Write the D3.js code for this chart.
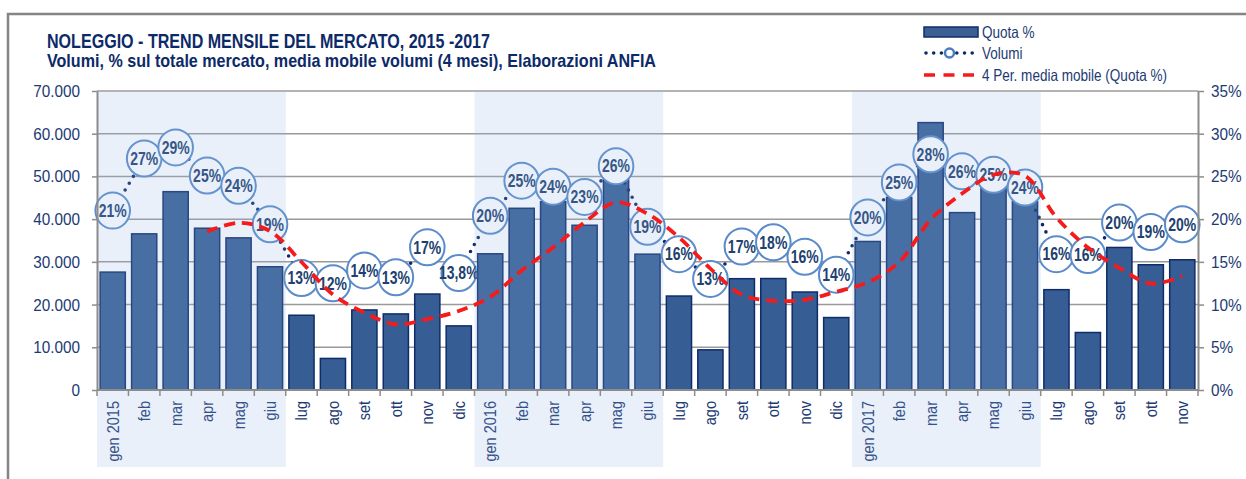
<!DOCTYPE html>
<html>
<head>
<meta charset="utf-8">
<script src="https://cdn.jsdelivr.net/npm/d3@7"></script>
<style>
  body { margin: 0; background: #fff; }
  svg { display: block; font-family: "Liberation Sans Narrow", "Arial Narrow", "Liberation Sans", Arial, sans-serif; }
</style>
</head>
<body>
<div id="wrapper"></div>
<script>
const categories = [
  'gen 2015', 'feb', 'mar', 'apr', 'mag', 'giu', 'lug', 'ago', 'set', 'ott', 'nov', 'dic',
  'gen 2016', 'feb', 'mar', 'apr', 'mag', 'giu', 'lug', 'ago', 'set', 'ott', 'nov', 'dic',
  'gen 2017', 'feb', 'mar', 'apr', 'mag', 'giu', 'lug', 'ago', 'set', 'ott', 'nov'
];

// bars (left axis, volumes)
const volumes = [
  27600, 36560, 46430, 37870, 35620, 28860, 17500, 7390, 18740, 17810, 22470, 15010,
  31890, 42540, 44080, 38570, 50530, 31800, 22000, 9400, 26060, 26100, 22940, 16960,
  34770, 45100, 62600, 41530, 52370, 44140, 23490, 13460, 33370, 29320, 30490
];

// share of total market (right axis), as placed in the picture
const quota = [
  21.0, 27.1, 28.4, 25.1, 23.9, 19.4, 13.1, 12.5, 14.0, 13.2, 16.7, 13.7,
  20.4, 24.5, 23.8, 22.6, 26.2, 19.1, 15.9, 13.0, 16.8, 17.3, 15.6, 13.5,
  20.2, 24.3, 27.6, 25.6, 25.2, 23.7, 15.9, 15.8, 19.6, 18.5, 19.4
];

const quotaLabels = [
  '21%', '27%', '29%', '25%', '24%', '19%', '13%', '12%', '14%', '13%', '17%', '13,8%',
  '20%', '25%', '24%', '23%', '26%', '19%', '16%', '13%', '17%', '18%', '16%', '14%',
  '20%', '25%', '28%', '26%', '25%', '24%', '16%', '16%', '20%', '19%', '20%'
];

const volumeTicks = [0, 10000, 20000, 30000, 40000, 50000, 60000, 70000];
const quotaTicks = [0, 5, 10, 15, 20, 25, 30, 35];
// first half of each year is shaded
const shadedSpans = [[0, 5], [12, 17], [24, 29]];

const itLocale = d3.formatLocale({ decimal: ',', thousands: '.', grouping: [3], currency: ['€', ''] });
const fmtVol = itLocale.format(',');

const width = 1246, height = 479;
const plot = { left: 97, right: 1198, top: 91, bottom: 390 };
const navy = '#1c3a73';

// squeeze text horizontally, the original uses a narrow face
const condense = (sel, k) => sel.each(function() {
  const w = this.getComputedTextLength();
  this.setAttribute('textLength', w * k);
  this.setAttribute('lengthAdjust', 'spacingAndGlyphs');
});

const svg = d3.select('#wrapper').append('svg')
    .attr('width', width)
    .attr('height', height);

// outer frame (top and left edges visible)
svg.append('path')
    .attr('d', `M8,${height} V14 H${width}`)
    .attr('fill', 'none')
    .attr('stroke', '#858585')
    .attr('stroke-width', 2.5);

const idx = categories.map((d, i) => i);

const xScale = d3.scaleBand()
    .domain(idx)
    .range([plot.left, plot.right])
    .paddingInner(0.2)
    .paddingOuter(0.1);

const yVol = d3.scaleLinear()
    .domain([0, 70000])
    .range([plot.bottom, plot.top]);

const yPct = d3.scaleLinear()
    .domain([0, 35])
    .range([plot.bottom, plot.top]);

const cx = i => xScale(i) + xScale.bandwidth() / 2;
const edge = i => xScale(i) - xScale.step() * xScale.paddingInner() / 2;

// gridlines
svg.append('g')
  .selectAll('line')
  .data(quotaTicks.slice(1))
  .join('line')
    .attr('x1', plot.left)
    .attr('x2', plot.right)
    .attr('y1', d => yPct(d))
    .attr('y2', d => yPct(d))
    .attr('stroke', '#9a9a9a')
    .attr('stroke-width', 1.5);

// bars
svg.append('g')
  .selectAll('rect')
  .data(volumes)
  .join('rect')
    .attr('x', (d, i) => xScale(i))
    .attr('width', xScale.bandwidth())
    .attr('y', d => yVol(d))
    .attr('height', d => yVol(0) - yVol(d))
    .attr('fill', '#365e94')
    .attr('stroke', '#0f2c68')
    .attr('stroke-width', 1.5);

// dotted line through share points
const shareLine = d3.line()
    .x((d, i) => cx(i))
    .y(d => yPct(d));

svg.append('path')
    .attr('d', shareLine(quota))
    .attr('fill', 'none')
    .attr('stroke', '#0f2a66')
    .attr('stroke-width', 3.6)
    .attr('stroke-linecap', 'round')
    .attr('stroke-dasharray', '0 8');

// label bubbles
const bubbles = svg.append('g')
  .selectAll('g')
  .data(quota)
  .join('g')
    .attr('transform', (d, i) => `translate(${cx(i)},${yPct(d)})`);

bubbles.append('ellipse')
    .attr('rx', 17.3)
    .attr('ry', 18)
    .attr('fill', '#fff')
    .attr('stroke', '#5b8bc9')
    .attr('stroke-width', 2);

bubbles.append('text')
    .attr('text-anchor', 'middle')
    .attr('dy', '0.36em')
    .attr('font-size', 17.5)
    .attr('font-weight', 'bold')
    .attr('fill', '#213f70')
    .text((d, i) => quotaLabels[i])
    .call(condense, 0.8);

// x axis labels
svg.append('g')
  .selectAll('text')
  .data(categories)
  .join('text')
    .attr('transform', (d, i) => `translate(${cx(i)},401) rotate(-90)`)
    .attr('text-anchor', 'end')
    .attr('dy', '0.36em')
    .attr('font-size', 16.5)
    .attr('fill', navy)
    .text(d => d)
    .call(condense, 0.88);

// shading for January-June, laid over the plot
svg.append('g')
  .selectAll('rect')
  .data(shadedSpans)
  .join('rect')
    .attr('x', d => edge(d[0]))
    .attr('width', d => edge(d[1]) + xScale.step() - edge(d[0]))
    .attr('y', plot.top + 1)
    .attr('height', 467 - plot.top - 1)
    .attr('fill', 'rgb(145,180,230)')
    .attr('fill-opacity', 0.2);

// 4-period moving average of the bar series
const movingAvg = volumes.map((d, i) => i < 3 ? null : d3.mean(volumes.slice(i - 3, i + 1)));

const avgLine = d3.line()
    .defined(d => d !== null)
    .x((d, i) => cx(i))
    .y(d => yVol(d))
    .curve(d3.curveCatmullRom.alpha(0.5));

svg.append('path')
    .attr('d', avgLine(movingAvg))
    .attr('fill', 'none')
    .attr('stroke', '#f51b1b')
    .attr('stroke-width', 3.8)
    .attr('stroke-dasharray', '11 7');

// axes
const styleAxis = g => {
  g.select('.domain').attr('stroke', '#8c8c8c').attr('stroke-width', 2);
  g.selectAll('.tick line').attr('stroke', '#8c8c8c').attr('stroke-width', 1.5);
  g.selectAll('.tick text').attr('fill', navy).attr('font-size', 17).call(condense, 0.9);
};

svg.append('g')
    .attr('transform', `translate(${plot.left},0)`)
    .call(d3.axisLeft(yVol).tickValues(volumeTicks).tickFormat(fmtVol).tickSize(5).tickPadding(12).tickSizeOuter(0))
    .attr('font-family', null)
    .call(styleAxis);

svg.append('g')
    .attr('transform', `translate(${plot.right},0)`)
    .call(d3.axisRight(yPct).tickValues(quotaTicks).tickFormat(d => d + '%').tickSize(6).tickPadding(7).tickSizeOuter(0))
    .attr('font-family', null)
    .call(styleAxis);

// bottom axis line with ticks at category edges
svg.append('line')
    .attr('x1', plot.left).attr('x2', plot.right)
    .attr('y1', plot.bottom).attr('y2', plot.bottom)
    .attr('stroke', '#8c8c8c').attr('stroke-width', 2);

svg.append('g')
  .selectAll('line')
  .data(idx.concat([idx.length]))
  .join('line')
    .attr('x1', d => d < idx.length ? edge(d) : plot.right)
    .attr('x2', d => d < idx.length ? edge(d) : plot.right)
    .attr('y1', plot.bottom)
    .attr('y2', plot.bottom + 6)
    .attr('stroke', '#8c8c8c')
    .attr('stroke-width', 1.5);

// titles
svg.append('text')
    .attr('x', 47).attr('y', 48)
    .attr('font-size', 20).attr('font-weight', 'bold')
    .attr('fill', '#0c2a68')
    .attr('textLength', 443).attr('lengthAdjust', 'spacingAndGlyphs')
    .text('NOLEGGIO - TREND MENSILE DEL MERCATO, 2015 -2017');

svg.append('text')
    .attr('x', 47).attr('y', 67)
    .attr('font-size', 18.5).attr('font-weight', 'bold')
    .attr('fill', '#0c2a68')
    .attr('textLength', 609).attr('lengthAdjust', 'spacingAndGlyphs')
    .text('Volumi, % sul totale mercato, media mobile volumi (4 mesi), Elaborazioni  ANFIA');

// legend
const legend = svg.append('g').attr('font-size', 16.5).attr('fill', navy);

legend.append('rect')
    .attr('x', 924).attr('y', 27).attr('width', 54).attr('height', 10)
    .attr('fill', '#3a5f95').attr('stroke', '#0f2c68').attr('stroke-width', 1.5);
legend.append('text').attr('x', 982).attr('y', 32).attr('dy', '0.35em').text('Quota %');

legend.append('line')
    .attr('x1', 926).attr('x2', 976).attr('y1', 53).attr('y2', 53)
    .attr('stroke', '#0f2a66').attr('stroke-width', 3.6)
    .attr('stroke-linecap', 'round').attr('stroke-dasharray', '0 7.7');
legend.append('circle')
    .attr('cx', 949.5).attr('cy', 53).attr('r', 4.5)
    .attr('fill', '#fff').attr('stroke', '#4a7cc0').attr('stroke-width', 2.5);
legend.append('text').attr('x', 982).attr('y', 53).attr('dy', '0.35em').text('Volumi');

legend.append('line')
    .attr('x1', 924).attr('x2', 978).attr('y1', 75).attr('y2', 75)
    .attr('stroke', '#f51b1b').attr('stroke-width', 3.5)
    .attr('stroke-dasharray', '11 8.5');
legend.append('text').attr('x', 982).attr('y', 75).attr('dy', '0.35em').text('4 Per. media mobile (Quota %)');

legend.selectAll('text').call(condense, 0.82);
</script>
</body>
</html>
